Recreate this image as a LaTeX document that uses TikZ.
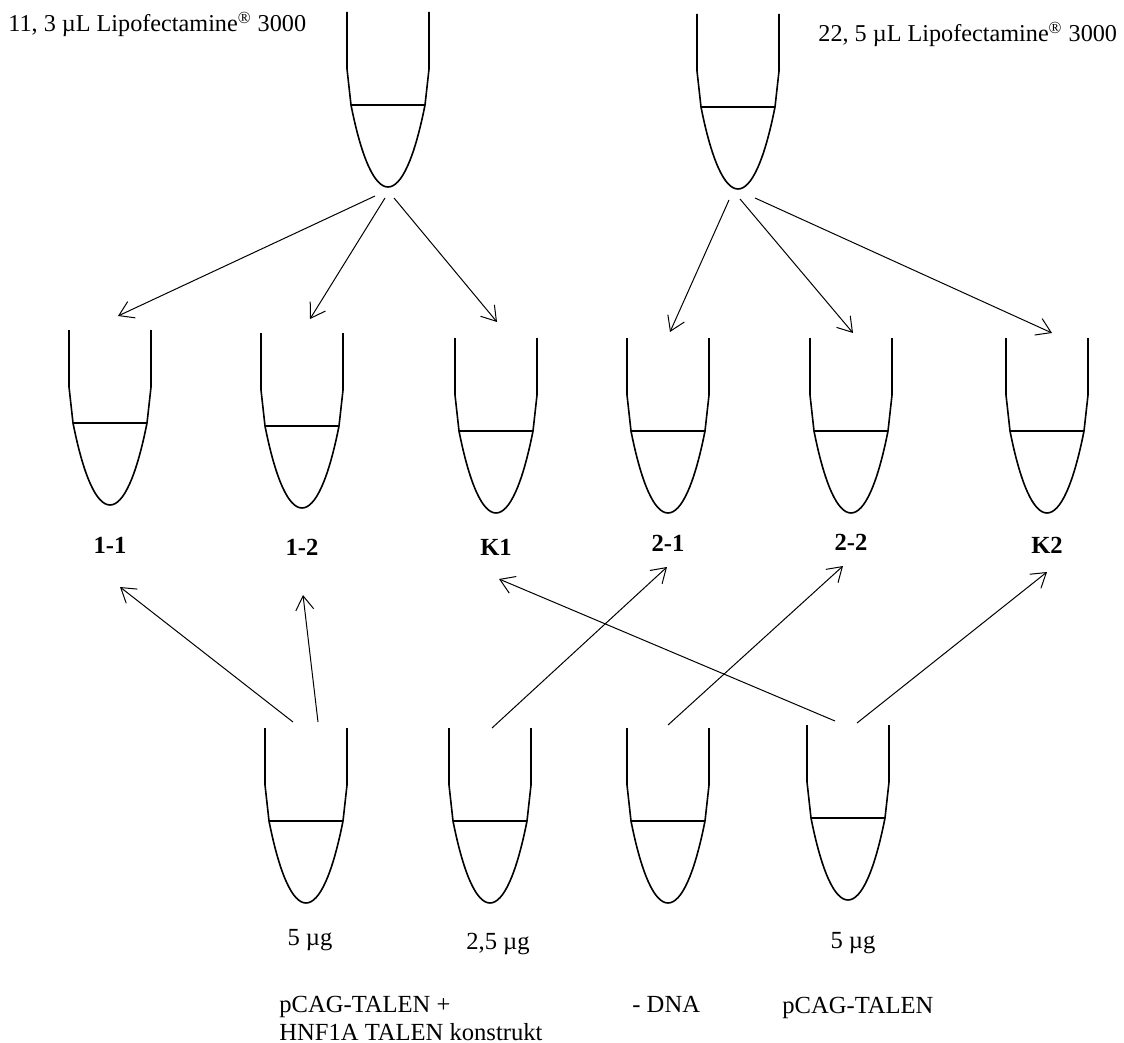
\documentclass[tikz,border=0pt]{standalone}
\usepackage{fontspec}
\setmainfont{Liberation Serif}
\usepackage{tikz}
\usetikzlibrary{arrows.meta}

\tikzset{
    tubeline/.style={line width=0.8pt},
    feed/.style={line width=0.5pt, -{Straight Barb[length=7pt, width=9pt]}},
    tubelabel/.style={font=\fontsize{12.3}{14}\selectfont\bfseries, anchor=base, inner sep=0pt},
    note/.style={font=\fontsize{12.3}{14}\selectfont, inner sep=0pt},
    lipo/.style={note, font=\fontsize{12.1}{14}\selectfont, anchor=base west},
    tube/.pic={
        \draw[tubeline] (-41, 0) -- (-41, 57) -- (-37, 93)
            .. controls (-26.5, 146) and (-13.5, 175) .. (0, 175)
            .. controls (13.5, 175) and (26.5, 146) .. (37, 93) -- (41, 57) -- (41, 0);
        \draw[tubeline] (-37, 93) -- (37, 93);
    }
}

\begin{document}
\begin{tikzpicture}[x=0.5pt, y=-0.5pt]
    \useasboundingbox (0, 0) rectangle (1124, 1043);
    \coordinate (lipoA) at (388, 12);
    \coordinate (lipoB) at (738, 14);
    \pic at (lipoA) {tube};
    \pic at (lipoB) {tube};
    \node[lipo] (lipoAtext) at (8, 32) {11, 3 µL Lipofectamine\textsuperscript{®} 3000};
    \node[lipo] (lipoBtext) at (818, 42) {22, 5 µL Lipofectamine\textsuperscript{®} 3000};
    \foreach \name/\x/\y/\lab/\by in {t11/110/330/1-1/553, t12/302/333/1-2/555, k1/496/338/K1/555,
        t21/668/338/2-1/551, t22/851/338/2-2/550, k2/1047/338/K2/553} {
        \coordinate (\name) at (\x, \y);
        \pic at (\name) {tube};
        \node[tubelabel] (l\name) at (\x, \by) {\lab};
    }
    \foreach \name/\x/\y in {d1/306/728, d2/490/728, d3/668/728, d4/848/725} {
        \coordinate (\name) at (\x, \y);
        \pic at (\name) {tube};
    }
    \node[note, anchor=base] (amt1) at (310, 945) {5 µg};
    \node[note, anchor=base] (amt2) at (498, 949) {2,5 µg};
    \node[note, anchor=base] (amt4) at (853, 948) {5 µg};
    \node[note, anchor=base west] (dna1) at (279, 1012) {pCAG-TALEN +};
    \node[note, anchor=base west] (dna1b) at (279, 1040) {HNF1A TALEN konstrukt};
    \node[note, anchor=base west] (dna3) at (632, 1012) {- DNA};
    \node[note, anchor=base west] (dna4) at (782, 1013) {pCAG-TALEN};
    % arrow ends
    \coordinate (aout1) at (375, 196);
    \coordinate (aout2) at (385, 198);
    \coordinate (aout3) at (394, 198);
    \coordinate (bout1) at (729, 200);
    \coordinate (bout2) at (740, 199);
    \coordinate (bout3) at (755, 198);
    \coordinate (t11in) at (118, 316);
    \coordinate (t12in) at (310, 319);
    \coordinate (k1in) at (497, 322);
    \coordinate (t21in) at (670, 332);
    \coordinate (t22in) at (853, 333);
    \coordinate (k2in) at (1052, 333);
    \coordinate (d1outa) at (293, 722);
    \coordinate (d1outb) at (318, 722);
    \coordinate (d2out) at (492, 728);
    \coordinate (d3out) at (668, 725);
    \coordinate (d4outa) at (835, 721);
    \coordinate (d4outb) at (857, 723);
    \coordinate (t11up) at (120, 587);
    \coordinate (t12up) at (303, 595);
    \coordinate (t21up) at (667, 567);
    \coordinate (t22up) at (843, 566);
    \coordinate (k1up) at (499, 579);
    \coordinate (k2up) at (1047, 572);
    \foreach \s/\t in {aout1/t11in, aout2/t12in, aout3/k1in, bout1/t21in, bout2/t22in, bout3/k2in,
        d1outa/t11up, d1outb/t12up, d2out/t21up, d3out/t22up, d4outa/k1up, d4outb/k2up} {
        \draw[feed] (\s) -- (\t);
    }
\end{tikzpicture}
\end{document}
